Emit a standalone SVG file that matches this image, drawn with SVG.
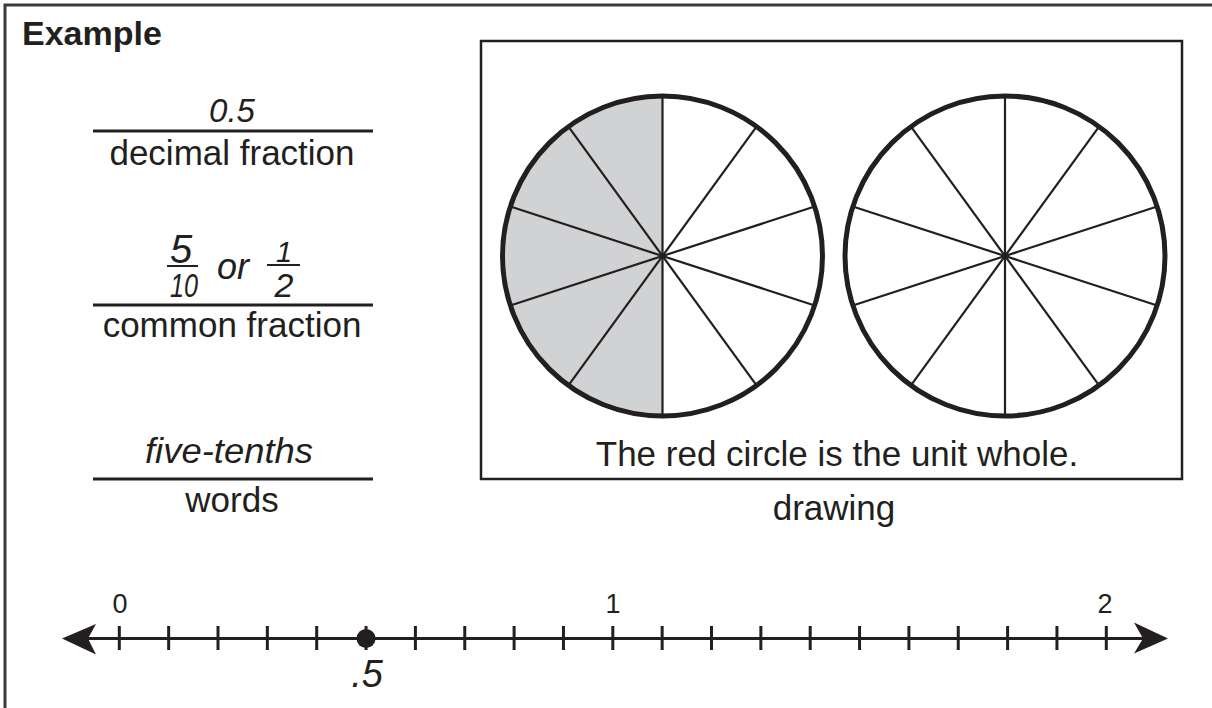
<svg xmlns="http://www.w3.org/2000/svg" width="1212" height="708" viewBox="0 0 1212 708">
<defs>
<style>
.lbl{font-family:"Liberation Sans",Arial,sans-serif;font-size:35px;fill:#231f20;text-anchor:middle}
.hw{font-family:"Liberation Sans",Arial,sans-serif;font-style:italic;fill:#231f20;text-anchor:middle}
.num{font-family:"Liberation Sans",Arial,sans-serif;font-size:27px;fill:#231f20;text-anchor:middle}
.rule{stroke:#231f20;stroke-width:3;fill:none}
.thin{stroke:#231f20;stroke-width:2;fill:none}
.ring{stroke:#231f20;stroke-width:5;fill:none}
.spoke{stroke:#231f20;stroke-width:2.2}
.tick{stroke:#231f20;stroke-width:3}
</style>
</defs>
<rect width="1212" height="708" fill="#ffffff"/>
<path d="M5,708 V5 H1212" fill="none" stroke="#3a3a3a" stroke-width="3"/>
<text x="22" y="45" font-family="Liberation Sans, Arial, sans-serif" font-size="34" font-weight="bold" fill="#231f20">Example</text>

<g id="decimal">
<text class="hw" x="232" y="122" font-size="33">0.5</text>
<line class="rule" x1="93" y1="131" x2="373" y2="131"/>
<text class="lbl" x="232" y="165">decimal fraction</text>
</g>

<g id="common">
<text class="hw" x="181" y="263" font-size="40">5</text>
<line class="thin" x1="167" y1="266" x2="198" y2="266"/>
<text class="hw" x="184" y="297" font-size="33" textLength="28" lengthAdjust="spacingAndGlyphs">10</text>
<text class="hw" x="233" y="279" font-size="36">or</text>
<text class="hw" x="284" y="262" font-size="29">1</text>
<line class="thin" x1="267" y1="265" x2="300" y2="265"/>
<text class="hw" x="284" y="297" font-size="34">2</text>
<line class="rule" x1="93" y1="305" x2="373" y2="305"/>
<text class="lbl" x="232" y="337">common fraction</text>
</g>

<g id="words">
<text class="hw" x="229" y="463" font-size="35" textLength="168" lengthAdjust="spacingAndGlyphs">five-tenths</text>
<line class="rule" x1="93" y1="479" x2="373" y2="479"/>
<text class="lbl" x="232" y="512">words</text>
</g>

<g id="drawing">
<rect x="481" y="41" width="701" height="438" fill="none" stroke="#231f20" stroke-width="2.5"/>
<g id="circle1">
<path d="M662.5,96 A160,160 0 0 0 662.5,416 Z" fill="#d1d2d4"/>
<g class="spoke">
<line x1="662.5" y1="96" x2="662.5" y2="416"/>
<line x1="756.55" y1="126.56" x2="568.45" y2="385.44"/>
<line x1="814.67" y1="206.56" x2="510.33" y2="305.44"/>
<line x1="814.67" y1="305.44" x2="510.33" y2="206.56"/>
<line x1="756.55" y1="385.44" x2="568.45" y2="126.56"/>
</g>
<circle class="ring" cx="662.5" cy="256" r="160"/>
</g>
<g id="circle2">
<g class="spoke">
<line x1="1005" y1="96" x2="1005" y2="416"/>
<line x1="1099.05" y1="126.56" x2="910.95" y2="385.44"/>
<line x1="1157.17" y1="206.56" x2="852.83" y2="305.44"/>
<line x1="1157.17" y1="305.44" x2="852.83" y2="206.56"/>
<line x1="1099.05" y1="385.44" x2="910.95" y2="126.56"/>
</g>
<circle class="ring" cx="1005" cy="256" r="160"/>
</g>
<text class="lbl" x="837" y="466">The red circle is the unit whole.</text>
<text class="lbl" x="834" y="520">drawing</text>
</g>

<g id="numberline">
<line class="rule" x1="80" y1="638.5" x2="1150" y2="638.5"/>
<path d="M62,638.5 L96,624 L88,638.5 L96,654.5 Z" fill="#231f20"/>
<path d="M1168,638.5 L1134,622.5 L1143,638.5 L1134,653.5 Z" fill="#231f20"/>
<g class="tick">
<line x1="119.3" y1="626" x2="119.3" y2="650"/>
<line x1="168.65" y1="626" x2="168.65" y2="650"/>
<line x1="218" y1="626" x2="218" y2="650"/>
<line x1="267.35" y1="626" x2="267.35" y2="650"/>
<line x1="316.7" y1="626" x2="316.7" y2="650"/>
<line x1="366.05" y1="626" x2="366.05" y2="650"/>
<line x1="415.4" y1="626" x2="415.4" y2="650"/>
<line x1="464.75" y1="626" x2="464.75" y2="650"/>
<line x1="514.1" y1="626" x2="514.1" y2="650"/>
<line x1="563.45" y1="626" x2="563.45" y2="650"/>
<line x1="612.8" y1="626" x2="612.8" y2="650"/>
<line x1="662.15" y1="626" x2="662.15" y2="650"/>
<line x1="711.5" y1="626" x2="711.5" y2="650"/>
<line x1="760.85" y1="626" x2="760.85" y2="650"/>
<line x1="810.2" y1="626" x2="810.2" y2="650"/>
<line x1="859.55" y1="626" x2="859.55" y2="650"/>
<line x1="908.9" y1="626" x2="908.9" y2="650"/>
<line x1="958.25" y1="626" x2="958.25" y2="650"/>
<line x1="1007.6" y1="626" x2="1007.6" y2="650"/>
<line x1="1056.95" y1="626" x2="1056.95" y2="650"/>
<line x1="1106.3" y1="626" x2="1106.3" y2="650"/>
</g>
<circle cx="366.05" cy="638.5" r="9.5" fill="#231f20"/>
<text class="num" x="120" y="613">0</text>
<text class="num" x="613" y="613">1</text>
<text class="num" x="1105" y="613">2</text>
<text class="hw" x="367" y="687" font-size="38">.5</text>
</g>
</svg>
